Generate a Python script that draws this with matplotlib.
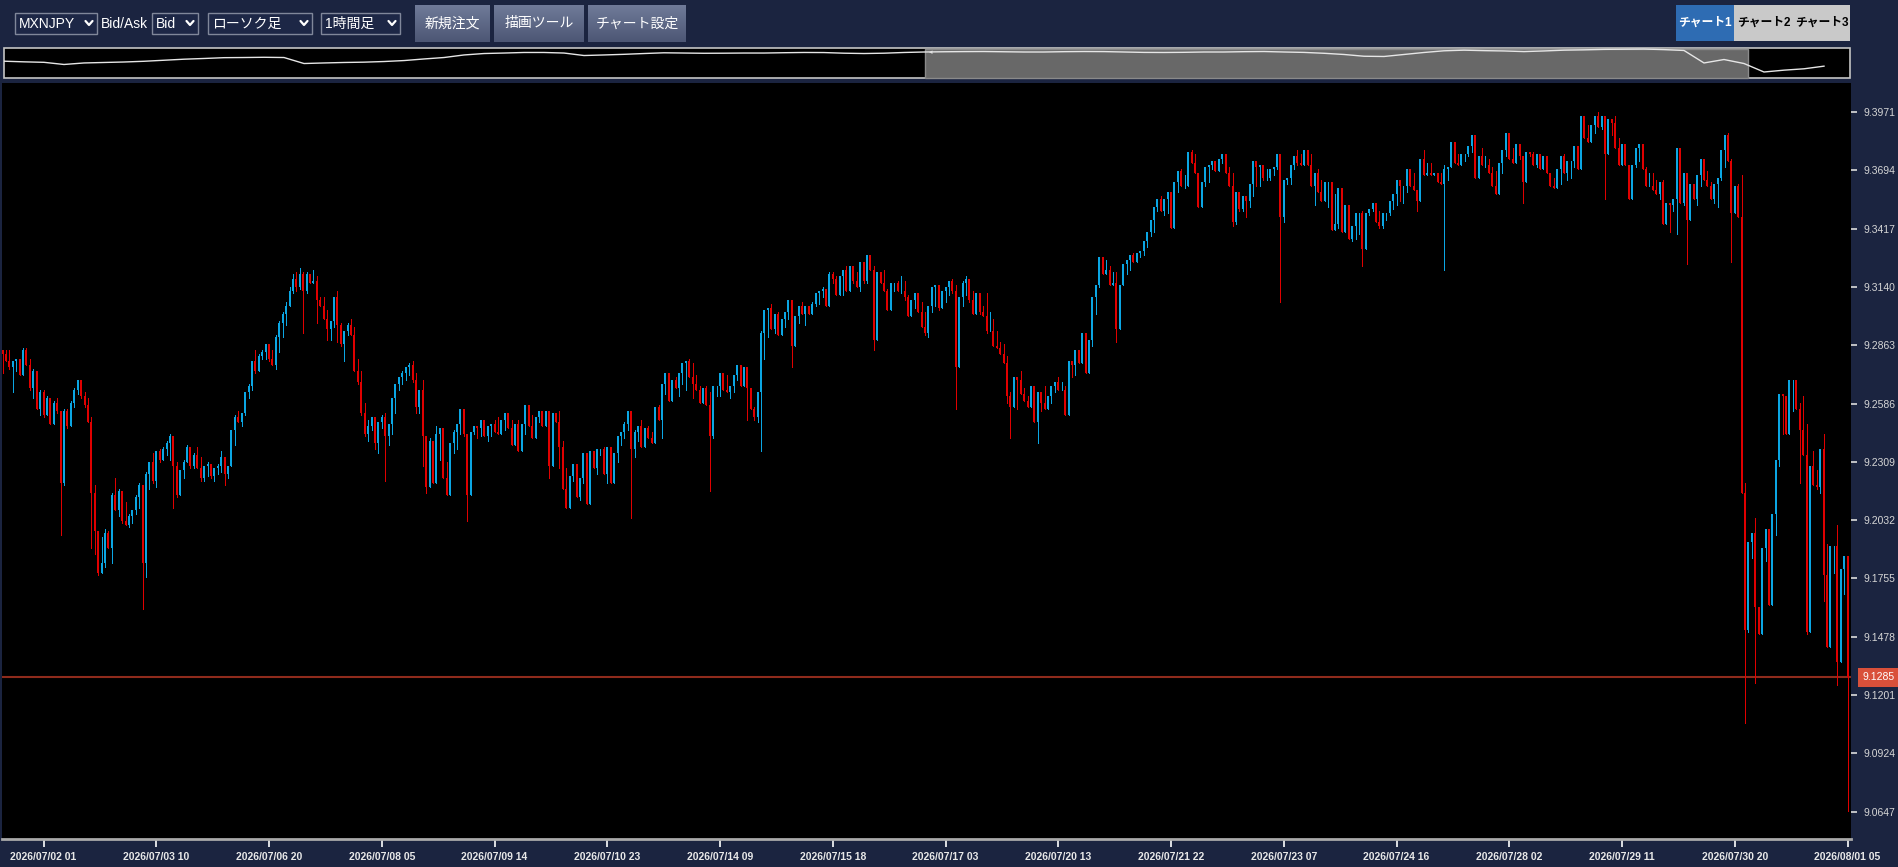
import numpy as np
import matplotlib
matplotlib.use("Agg")
import matplotlib.pyplot as plt
from matplotlib.patches import Rectangle
from matplotlib.colors import LinearSegmentedColormap

plt.rcParams["font.family"] = ["Liberation Sans", "Noto Sans CJK JP", "DejaVu Sans"]

W, H = 1898, 867
NAVY = "#1b2440"
UP = "#0ba6e3"
DOWN = "#e00000"

# hourly MXNJPY bid candles, values in 0.001 JPY above 9.000
first_open = 284
closes = [
    282, 279, 276, 279, 280, 272, 284, 277, 266, 274,
    256, 264, 253, 261, 249, 259, 255, 221, 255, 248,
    259, 265, 270, 262, 258, 250, 216, 198, 178, 183,
    197, 190, 215, 208, 217, 203, 201, 205, 208, 214,
    220, 183, 225, 231, 222, 236, 232, 237, 240, 243,
    229, 215, 227, 231, 238, 229, 234, 228, 223, 229,
    230, 224, 228, 229, 233, 225, 229, 246, 252, 250,
    254, 264, 267, 279, 274, 281, 283, 287, 280, 277,
    290, 297, 301, 305, 312, 318, 314, 320, 312, 320,
    316, 317, 308, 305, 299, 294, 298, 309, 296, 287,
    293, 296, 291, 274, 269, 254, 244, 248, 252, 240,
    250, 252, 243, 249, 261, 268, 271, 273, 276, 277,
    270, 257, 265, 243, 219, 241, 221, 244, 247, 223,
    215, 240, 245, 249, 256, 244, 215, 245, 248, 247,
    251, 243, 248, 249, 245, 244, 251, 254, 247, 239,
    249, 236, 249, 258, 248, 242, 252, 255, 248, 255,
    229, 254, 250, 238, 218, 209, 224, 230, 214, 223,
    235, 211, 236, 228, 237, 237, 225, 238, 221, 235,
    243, 245, 249, 255, 237, 245, 248, 238, 247, 242,
    240, 257, 251, 268, 273, 260, 270, 266, 273, 278,
    279, 271, 268, 265, 259, 266, 258, 243, 267, 267,
    273, 265, 264, 267, 272, 277, 267, 276, 266, 256,
    252, 264, 292, 303, 304, 294, 301, 291, 299, 302,
    308, 286, 300, 305, 301, 305, 301, 306, 311, 312,
    313, 305, 320, 318, 310, 319, 322, 312, 324, 317,
    314, 326, 317, 329, 322, 289, 321, 316, 312, 303,
    316, 316, 312, 312, 309, 300, 308, 311, 302, 295,
    292, 305, 314, 315, 304, 312, 314, 317, 312, 276,
    309, 316, 318, 308, 301, 311, 302, 300, 293, 293,
    286, 285, 282, 278, 262, 257, 271, 270, 263, 260,
    257, 267, 250, 264, 259, 256, 262, 267, 269, 265,
    265, 253, 279, 277, 284, 278, 292, 273, 289, 309,
    315, 328, 320, 322, 315, 316, 294, 315, 325, 327,
    329, 326, 330, 331, 336, 340, 346, 352, 356, 350,
    356, 359, 342, 364, 369, 362, 362, 378, 373, 368,
    352, 364, 371, 372, 374, 369, 375, 377, 368, 362,
    345, 359, 351, 357, 355, 363, 374, 371, 372, 366,
    366, 370, 371, 377, 347, 365, 366, 372, 376, 373,
    372, 379, 372, 362, 368, 359, 355, 364, 364, 341,
    344, 361, 340, 353, 337, 343, 349, 349, 332, 349,
    351, 354, 345, 343, 349, 349, 355, 358, 365, 362,
    362, 370, 362, 360, 355, 375, 367, 368, 367, 368,
    364, 363, 370, 371, 383, 373, 372, 377, 377, 381,
    386, 366, 376, 372, 372, 368, 362, 358, 373, 379,
    387, 375, 373, 382, 376, 364, 378, 377, 372, 377,
    370, 376, 368, 362, 361, 370, 376, 368, 374, 374,
    381, 370, 395, 385, 383, 391, 395, 390, 395, 377,
    394, 392, 380, 372, 382, 372, 356, 372, 380, 382,
    370, 362, 362, 360, 358, 364, 344, 354, 353, 356,
    380, 354, 368, 346, 363, 356, 367, 375, 365, 362,
    356, 363, 366, 379, 386, 374, 349, 362, 347, 216,
    151, 193, 197, 162, 149, 190, 199, 163, 206, 232,
    263, 262, 244, 270, 270, 256, 246, 234, 150, 229,
    220, 219, 237, 177, 143, 191, 191, 136, 180, 186,
    128.5,
]
highs = [
    284, 284, 284, 279, 280, 279, 285, 285, 280, 275,
    274, 265, 265, 262, 258, 260, 261, 255, 256, 256,
    260, 266, 270, 267, 264, 261, 252, 220, 198, 195,
    199, 198, 216, 223, 218, 217, 212, 206, 208, 215,
    221, 220, 226, 231, 235, 236, 237, 238, 241, 244,
    243, 231, 227, 232, 239, 238, 235, 238, 233, 229,
    231, 229, 228, 230, 236, 233, 229, 246, 253, 255,
    254, 264, 268, 279, 284, 282, 284, 287, 285, 284,
    291, 298, 302, 307, 314, 320, 321, 323, 321, 321,
    320, 322, 319, 309, 309, 303, 298, 309, 312, 297,
    293, 297, 299, 295, 280, 274, 259, 251, 252, 252,
    250, 253, 254, 249, 261, 268, 271, 274, 276, 278,
    279, 273, 265, 270, 242, 242, 240, 248, 247, 247,
    231, 240, 246, 249, 256, 256, 244, 245, 248, 248,
    251, 251, 248, 249, 251, 252, 251, 254, 253, 251,
    249, 251, 249, 258, 257, 253, 252, 255, 254, 255,
    255, 254, 253, 255, 241, 228, 224, 230, 225, 223,
    235, 228, 236, 235, 237, 237, 238, 238, 235, 235,
    243, 245, 250, 255, 255, 246, 248, 251, 247, 248,
    245, 257, 258, 268, 273, 268, 270, 271, 273, 278,
    279, 280, 278, 272, 267, 266, 267, 264, 267, 267,
    273, 272, 272, 267, 272, 277, 277, 276, 276, 266,
    257, 264, 293, 303, 304, 306, 301, 302, 299, 302,
    308, 308, 300, 305, 307, 305, 305, 307, 311, 312,
    314, 313, 321, 321, 319, 319, 322, 324, 324, 323,
    321, 326, 323, 329, 328, 324, 321, 320, 322, 313,
    316, 316, 317, 319, 317, 310, 308, 311, 309, 307,
    302, 305, 314, 315, 312, 312, 314, 317, 318, 315,
    309, 317, 319, 317, 312, 311, 308, 305, 311, 302,
    299, 293, 288, 287, 281, 264, 271, 270, 274, 266,
    262, 267, 263, 264, 259, 267, 262, 267, 269, 271,
    269, 267, 279, 279, 284, 284, 292, 292, 289, 309,
    315, 328, 328, 327, 324, 321, 321, 315, 325, 327,
    329, 330, 330, 331, 336, 340, 346, 352, 356, 357,
    356, 359, 354, 364, 369, 370, 367, 378, 379, 377,
    368, 364, 371, 372, 374, 373, 375, 377, 376, 371,
    368, 359, 359, 357, 357, 363, 374, 371, 372, 372,
    370, 370, 371, 377, 374, 365, 366, 372, 376, 379,
    377, 379, 377, 377, 368, 370, 365, 364, 364, 364,
    358, 361, 356, 353, 350, 343, 349, 349, 350, 349,
    351, 354, 352, 350, 349, 349, 355, 358, 365, 365,
    362, 370, 370, 368, 360, 375, 379, 373, 373, 368,
    368, 368, 372, 371, 383, 381, 377, 377, 377, 381,
    386, 384, 376, 380, 376, 375, 371, 369, 373, 379,
    387, 383, 380, 382, 381, 376, 378, 378, 378, 377,
    377, 376, 376, 368, 366, 370, 376, 377, 374, 374,
    381, 381, 395, 395, 391, 391, 395, 397, 395, 395,
    394, 394, 395, 385, 382, 380, 372, 372, 380, 382,
    382, 371, 368, 368, 365, 364, 365, 354, 354, 356,
    380, 379, 368, 360, 363, 363, 367, 375, 372, 369,
    364, 363, 366, 379, 386, 387, 375, 362, 363, 367,
    221, 193, 197, 204, 161, 190, 199, 194, 206, 232,
    263, 263, 261, 270, 270, 267, 259, 262, 249, 229,
    236, 227, 237, 244, 192, 191, 191, 201, 180, 186,
    186,
]
lows = [
    273, 279, 275, 264, 274, 272, 272, 277, 265, 261,
    256, 253, 252, 253, 249, 249, 254, 196, 220, 247,
    248, 257, 263, 261, 257, 250, 190, 187, 177, 178,
    181, 190, 183, 208, 205, 202, 201, 200, 202, 206,
    209, 161, 176, 218, 221, 219, 231, 232, 234, 232,
    209, 214, 215, 223, 231, 228, 228, 228, 222, 222,
    224, 223, 222, 225, 226, 220, 223, 229, 239, 250,
    248, 253, 261, 265, 273, 274, 280, 280, 279, 277,
    275, 283, 290, 296, 305, 311, 312, 313, 292, 311,
    316, 316, 297, 305, 299, 289, 289, 295, 288, 286,
    279, 291, 291, 274, 268, 253, 243, 241, 246, 237,
    235, 247, 222, 239, 244, 254, 265, 268, 270, 272,
    269, 254, 254, 229, 216, 219, 221, 221, 232, 223,
    215, 215, 235, 237, 244, 243, 203, 215, 244, 242,
    243, 243, 241, 243, 245, 244, 244, 246, 247, 239,
    239, 236, 236, 244, 248, 242, 242, 250, 248, 248,
    223, 229, 250, 228, 218, 209, 209, 222, 214, 213,
    221, 211, 211, 228, 225, 234, 225, 221, 221, 221,
    231, 239, 242, 246, 204, 233, 241, 238, 238, 242,
    240, 240, 251, 242, 263, 260, 260, 266, 262, 268,
    265, 271, 261, 265, 259, 259, 258, 217, 242, 262,
    262, 265, 264, 261, 264, 270, 267, 267, 251, 256,
    251, 250, 236, 280, 290, 294, 292, 291, 291, 295,
    299, 276, 286, 297, 301, 296, 301, 301, 305, 306,
    309, 305, 305, 316, 310, 310, 310, 312, 312, 316,
    314, 312, 316, 316, 322, 284, 289, 316, 312, 303,
    303, 312, 312, 311, 308, 300, 300, 304, 302, 295,
    291, 290, 302, 305, 303, 304, 307, 310, 311, 256,
    276, 305, 310, 307, 301, 301, 301, 300, 292, 293,
    286, 285, 282, 278, 259, 242, 257, 256, 263, 260,
    257, 257, 250, 240, 255, 256, 256, 259, 264, 265,
    265, 253, 253, 271, 272, 278, 278, 273, 273, 286,
    301, 314, 320, 320, 315, 315, 288, 294, 315, 320,
    322, 326, 326, 328, 329, 333, 338, 340, 350, 350,
    348, 349, 342, 342, 359, 362, 361, 362, 373, 368,
    352, 352, 362, 364, 370, 369, 369, 373, 368, 362,
    343, 344, 350, 350, 347, 352, 357, 362, 362, 365,
    365, 365, 367, 370, 307, 345, 363, 363, 370, 372,
    372, 372, 372, 362, 353, 359, 355, 355, 352, 341,
    341, 342, 340, 340, 337, 336, 337, 339, 324, 332,
    348, 350, 345, 342, 342, 346, 348, 351, 353, 355,
    354, 359, 362, 360, 350, 355, 367, 367, 367, 367,
    364, 363, 322, 365, 371, 373, 372, 372, 374, 376,
    378, 366, 366, 372, 371, 368, 362, 358, 358, 368,
    376, 375, 373, 373, 375, 354, 364, 376, 372, 371,
    370, 370, 368, 362, 361, 361, 363, 368, 365, 366,
    371, 370, 370, 385, 383, 383, 387, 390, 389, 356,
    377, 386, 380, 372, 372, 372, 356, 356, 371, 374,
    370, 362, 362, 360, 358, 356, 344, 344, 340, 350,
    339, 354, 353, 325, 346, 356, 353, 362, 365, 362,
    356, 354, 352, 365, 371, 374, 326, 349, 347, 216,
    107, 150, 185, 126, 149, 149, 184, 163, 168, 196,
    229, 244, 244, 244, 255, 256, 221, 234, 149, 150,
    220, 218, 216, 165, 143, 143, 178, 125, 136, 168,
    65,
]

tick_labels = [
    "2026/07/02 01", "2026/07/03 10", "2026/07/06 20", "2026/07/08 05",
    "2026/07/09 14", "2026/07/10 23", "2026/07/14 09", "2026/07/15 18",
    "2026/07/17 03", "2026/07/20 13", "2026/07/21 22", "2026/07/23 07",
    "2026/07/24 16", "2026/07/28 02", "2026/07/29 11", "2026/07/30 20",
    "2026/08/01 05",
]
first_tick = 12
tick_step = 33

price_ticks = [9.0647, 9.0924, 9.1201, 9.1478, 9.1755, 9.2032, 9.2309,
               9.2586, 9.2863, 9.3140, 9.3417, 9.3694, 9.3971]
last_price = 9.1285

# overview line in the navigator strip (same units as the candles)
nav_values = [
    260, 252, 246, 219, 238, 244, 250, 259, 272, 285,
    294, 304, 306, 309, 306, 231, 238, 244, 248, 256,
    268, 288, 306, 338, 356, 362, 369, 369, 362, 331,
    338, 346, 356, 365, 362, 359, 360, 362, 362, 366,
    369, 368, 360, 356, 360, 369, 375, 378, 380, 381,
    378, 375, 375, 379, 381, 380, 375, 370, 369, 371,
    375, 375, 379, 381, 375, 370, 359, 344, 322, 319,
    344, 369, 390, 398, 392, 388, 380, 388, 398, 402,
    408, 410, 412, 405, 394, 238, 281, 231, 125, 148,
    165, 198,
]

fig = plt.figure(figsize=(W / 100, H / 100), dpi=100, facecolor=NAVY)


def px_axes(x0, y0, x1, y1, **kw):
    return fig.add_axes([x0 / W, 1 - y1 / H, (x1 - x0) / W, (y1 - y0) / H], **kw)


# ---- toolbar / navigator chrome (pixel coordinates) ----
ui = px_axes(0, 0, W, H, zorder=0)
ui.patch.set_alpha(0)
ui.axis("off")


def box(x0, y0, x1, y1, **kw):
    ui.add_patch(Rectangle((x0, y0), x1 - x0, y1 - y0, **kw))


def chevron(cx, cy):
    ui.plot([cx - 3.5, cx, cx + 3.5], [cy - 2, cy + 2, cy - 2], color="white",
            lw=1.6, solid_capstyle="round", solid_joinstyle="round")


dropdowns = [("MXNJPY", 15, 97), ("Bid", 152, 198), ("ローソク足", 208, 312), ("1時間足", 321, 400)]
for label, x0, x1 in dropdowns:
    box(x0, 12.5, x1, 33.5, fc="#1d2746", ec="#80879a", lw=1)
    ui.text(x0 + 4, 23.5, label, color="white", fontsize=10, va="center", ha="left")
    chevron(x1 - 8, 23)
ui.text(101, 23.5, "Bid/Ask", color="white", fontsize=10, va="center", ha="left")

btn_cmap = LinearSegmentedColormap.from_list("btn", ["#6f7a98", "#4d5775"])
grad = np.linspace(0, 1, 32).reshape(-1, 1)
buttons = [("新規注文", 415, 490), ("描画ツール", 494, 584), ("チャート設定", 588, 686)]
for label, x0, x1 in buttons:
    ui.imshow(grad, cmap=btn_cmap, extent=(x0, x1, 42, 5), aspect="auto", zorder=1)
    ui.text((x0 + x1) / 2, 23.5, label, color="white", fontsize=10, va="center", ha="center", zorder=2)

tabs = [("チャート1", 1676, 1734, "#2e6cb3", "white"),
        ("チャート2", 1734, 1793, "#c9c9c9", "black"),
        ("チャート3", 1793, 1850, "#c9c9c9", "black")]
for label, x0, x1, fc, tc in tabs:
    box(x0, 4.5, x1, 41, fc=fc, ec="none")
    ui.text((x0 + x1) / 2, 23, label, color=tc, fontsize=8.5, fontweight="bold",
            va="center", ha="center")

# navigator frame and the shaded window
box(4, 48, 1850, 78, fc="black", ec="#c4c4c4", lw=1.2)
box(925, 48.5, 1748, 77.5, fc="#686868", ec="#8a8a8a", lw=1)
ui.text(929, 52.5, "◂", color="#dddddd", fontsize=5, va="center", ha="left",
        family=["DejaVu Sans"])

ui.set_xlim(0, W)
ui.set_ylim(H, 0)

nav = px_axes(4, 48, 1850, 78, zorder=2)
nav.patch.set_alpha(0)
nav.axis("off")
nav.plot(np.arange(len(nav_values)), nav_values, color="#e6e6e6", lw=1)
nav.set_xlim(0, (1850 - 4) / 20)
nav.set_ylim(50, 425)

# ---- candle chart ----
ax = px_axes(2, 83, 1851, 839, zorder=1)
ax.set_facecolor("black")

c = 9 + np.array(closes) / 1000
o = np.r_[9 + first_open / 1000, c[:-1]]
h = np.maximum(9 + np.array(highs) / 1000, np.maximum(o, c))
l = np.minimum(9 + np.array(lows) / 1000, np.minimum(o, c))
x = np.arange(len(c))
col = np.where(c >= o, UP, DOWN)

ax.vlines(x, l, h, colors=col, lw=0.72, antialiased=False)
ax.vlines(x, np.minimum(o, c), np.maximum(o, c), colors=col, lw=1.35, antialiased=False)

ax.axhline(last_price, color="#8f2b1c", lw=1.5, zorder=0.5)
ax.annotate(f"{last_price:.4f}", xy=(1, last_price), xycoords=("axes fraction", "data"),
            xytext=(8.5, 0), textcoords="offset points", va="center", ha="left",
            color="white", fontsize=7.5, annotation_clip=False,
            bbox=dict(boxstyle="square,pad=0.45", fc="#d9503a", ec="none"))

ax.set_xlim(-0.15, 541.0)
ax.set_ylim(9.0517, 9.4109)

ax.set_xticks([first_tick + tick_step * k for k in range(len(tick_labels))], tick_labels)
ax.tick_params(axis="x", length=6, width=1.2, color="white", pad=3,
               labelsize=7.5, labelcolor="#e8e8e8")
for t in ax.get_xticklabels():
    t.set_fontweight("bold")

ax.yaxis.tick_right()
ax.set_yticks(price_ticks, [f"{p:.4f}" for p in price_ticks])
ax.tick_params(axis="y", length=4, width=1.2, color="#dddddd", pad=5,
               labelsize=7.5, labelcolor="#d6d6d6")

for s in ["top", "left", "right"]:
    ax.spines[s].set_visible(False)
ax.spines["bottom"].set_color("#a9a9a9")
ax.spines["bottom"].set_linewidth(2)

fig.savefig("out.png", dpi=100, facecolor=NAVY)
